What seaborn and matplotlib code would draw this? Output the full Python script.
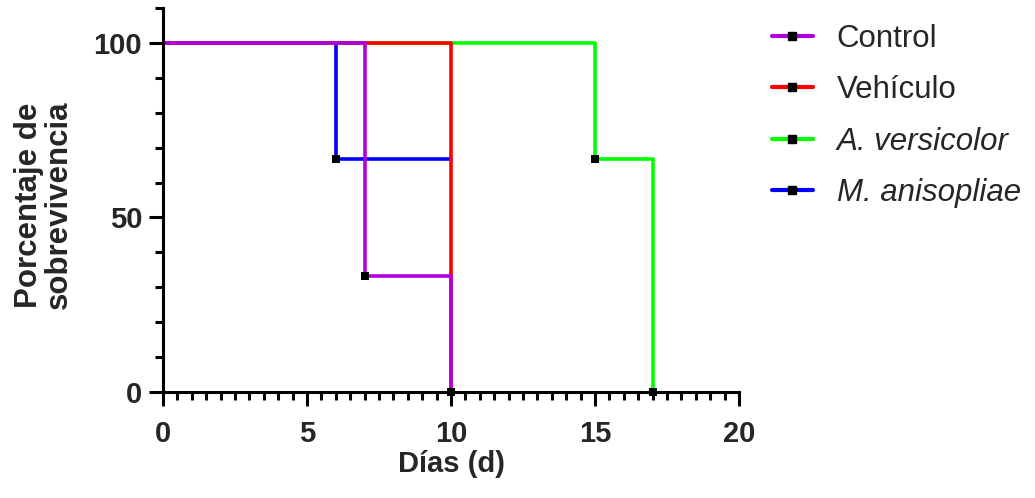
import pandas as pd
import seaborn as sns
import matplotlib.pyplot as plt
from matplotlib.lines import Line2D
from matplotlib.ticker import MultipleLocator

# curvas de Kaplan-Meier (días, % sobrevivencia)
grupos = ['Control', 'Vehículo', 'A. versicolor', 'M. anisopliae']
colores = ['#B000DC', '#FF0000', '#00FF00', '#0000FF']

dias_control = [0, 7, 10]
surv_control = [100, 33.3, 0]
dias_vehiculo = [0, 10]
surv_vehiculo = [100, 0]
dias_versicolor = [0, 15, 17]
surv_versicolor = [100, 66.7, 0]
dias_anisopliae = [0, 6, 10]
surv_anisopliae = [100, 66.7, 66.7]

xticks = [0, 5, 10, 15, 20]
yticks = [0, 50, 100]

sns.set_style('ticks')
plt.rcParams['font.family'] = ['Liberation Sans', 'DejaVu Sans']

partes = []
for g, d, s in zip(grupos,
                   [dias_control, dias_vehiculo, dias_versicolor, dias_anisopliae],
                   [surv_control, surv_vehiculo, surv_versicolor, surv_anisopliae]):
    partes.append(pd.DataFrame({'grupo': g, 'dia': d, 'sobrevivencia': s}))
df = pd.concat(partes, ignore_index=True)

# puntos donde cae la curva
df['caida'] = df.groupby('grupo')['sobrevivencia'].diff() < 0
eventos = df[df['caida']]

fig = plt.figure(figsize=(10.35, 4.98), dpi=100)
ax = fig.add_axes([163 / 1035, 1 - 392 / 498, 576 / 1035, 384 / 498])

# el control queda encima, como en el original
for g, c in reversed(list(zip(grupos, colores))):
    sns.lineplot(data=df[df['grupo'] == g], x='dia', y='sobrevivencia',
                 drawstyle='steps-post', color=c, linewidth=2.6,
                 estimator=None, sort=False, legend=False, ax=ax)

sns.scatterplot(data=eventos, x='dia', y='sobrevivencia', marker='s',
                color='black', s=34, linewidth=0, zorder=5, clip_on=False,
                legend=False, ax=ax)

fs = 21
ax.set_xlim(0, 20)
ax.set_ylim(0, 110)
ax.set_xticks(xticks, [str(t) for t in xticks], fontsize=fs, fontweight='bold')
ax.set_yticks(yticks, [str(t) for t in yticks], fontsize=fs, fontweight='bold')
ax.xaxis.set_minor_locator(MultipleLocator(0.5))
ax.yaxis.set_minor_locator(MultipleLocator(10))
ax.tick_params(which='major', length=10, width=2.2, color='black')
ax.tick_params(axis='x', which='major', pad=10)
ax.tick_params(axis='y', which='major', pad=5)
ax.tick_params(which='minor', length=5.5, width=2.2, color='black')
sns.despine(ax=ax)
for sp in ['left', 'bottom']:
    ax.spines[sp].set_linewidth(2.2)
    ax.spines[sp].set_color('black')

ax.set_xlabel('Días (d)', fontsize=fs, fontweight='bold')
ax.set_ylabel('Porcentaje de\nsobrevivencia', fontsize=22.5, fontweight='bold',
              linespacing=1.0)
ax.xaxis.set_label_coords(0.5, -0.15)
ax.yaxis.set_label_coords(-0.155, 0.487)

handles = [Line2D([], [], color=c, linewidth=3, marker='s', markersize=6,
                  markerfacecolor='black', markeredgecolor='black')
           for c in colores]
leg = fig.legend(handles, grupos, loc='upper left',
                 bbox_to_anchor=(772 / 1035, 1 - 24 / 498), frameon=False,
                 fontsize=22.5, numpoints=1, handlelength=1.3, handletextpad=0.77,
                 labelspacing=0.68, borderpad=0, borderaxespad=0)
for t in leg.get_texts()[2:]:
    t.set_fontstyle('italic')

fig.savefig('out.png', dpi=100)
